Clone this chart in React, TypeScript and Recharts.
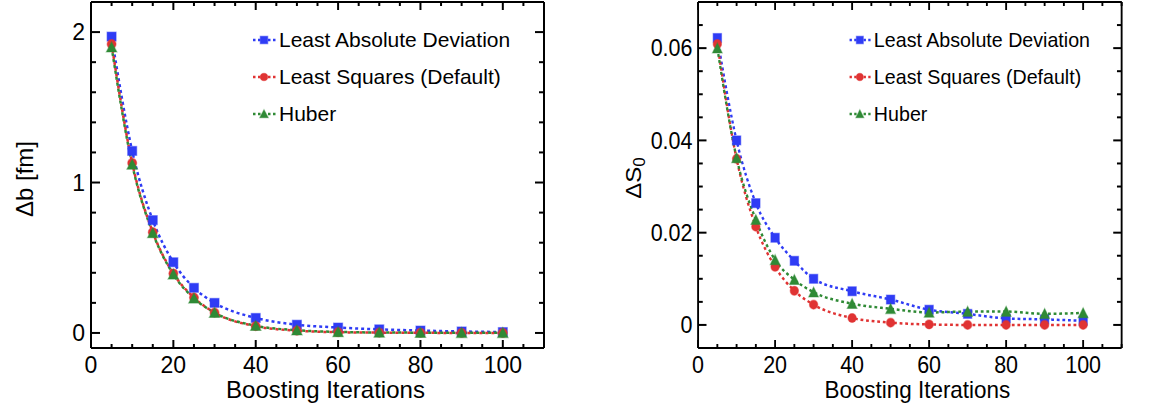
import React from 'react';
import { LineChart, Line, XAxis, YAxis, Legend, Label } from 'recharts';

const iterations = [5, 10, 15, 20, 25, 30, 40, 50, 60, 70, 80, 90, 100];

const dbLAD = [1.97, 1.21, 0.75, 0.47, 0.30, 0.20, 0.10, 0.055, 0.036, 0.024, 0.016, 0.010, 0.006];
const dbLS = [1.92, 1.13, 0.67, 0.395, 0.235, 0.135, 0.045, 0.015, 0.005, 0.002, 0.001, 0.0, 0.0];
const dbHuber = [1.90, 1.12, 0.665, 0.39, 0.23, 0.135, 0.048, 0.018, 0.007, 0.003, 0.002, 0.001, 0.001];

const dsLAD = [0.0622, 0.04, 0.0264, 0.0189, 0.0139, 0.01, 0.0073, 0.0055, 0.0033, 0.0024, 0.0014, 0.0012, 0.0009];
const dsLS = [0.0609, 0.036, 0.0213, 0.0126, 0.0074, 0.0044, 0.0015, 0.0005, 0.0001, 0.0, 0.0, 0.0, 0.0];
const dsHuber = [0.06, 0.0362, 0.0228, 0.0141, 0.0098, 0.0071, 0.0046, 0.0035, 0.0027, 0.0029, 0.0029, 0.0024, 0.0026];

const seriesNames = ['Least Absolute Deviation', 'Least Squares (Default)', 'Huber'];
const seriesColors = ['#2f3cf5', '#e03333', '#2f8a35'];
const seriesShapes = ['square', 'circle', 'triangle'];

const xTicks = [0, 5, 10, 15, 20, 25, 30, 35, 40, 45, 50, 55, 60, 65, 70, 75, 80, 85, 90, 95, 100, 105, 110];
const xMajor = [0, 20, 40, 60, 80, 100];
const xLabels = ['0', '20', '40', '60', '80', '100'];

const dbTicks = [0, 0.2, 0.4, 0.6, 0.8, 1.0, 1.2, 1.4, 1.6, 1.8, 2.0, 2.2];
const dbMajor = [0, 1, 2];
const dbLabels = ['0', '1', '2'];

const dsTicks = [0, 0.005, 0.01, 0.015, 0.02, 0.025, 0.03, 0.035, 0.04, 0.045, 0.05, 0.055, 0.06, 0.065, 0.07];
const dsMajor = [0, 0.02, 0.04, 0.06];
const dsLabels = ['0', '0.02', '0.04', '0.06'];

const FONT = '"Liberation Sans", Arial, Helvetica, sans-serif';

const buildRows = (a: number[], b: number[], c: number[]) =>
  iterations.map((it, i) => ({ it, lad: a[i], ls: b[i], hub: c[i] }));

const dbData = buildRows(dbLAD, dbLS, dbHuber);
const dsData = buildRows(dsLAD, dsLS, dsHuber);

const majorIndex = (v: number, majors: number[]) => majors.findIndex((m) => Math.abs(m - v) < 1e-9);

const Marker = ({ shape, cx, cy, color, size = 9 }: any) => {
  const h = size / 2;
  if (shape === 'square') {
    return <rect x={cx - h} y={cy - h} width={size} height={size} fill={color} stroke={color} strokeOpacity={0.45} strokeWidth={1.2} />;
  }
  if (shape === 'circle') {
    return <circle cx={cx} cy={cy} r={h} fill={color} stroke={color} strokeOpacity={0.45} strokeWidth={1.2} />;
  }
  return (
    <polygon
      points={`${cx},${cy - h - 0.5} ${cx + h + 0.5},${cy + h} ${cx - h - 0.5},${cy + h}`}
      fill={color}
      stroke={color}
      strokeOpacity={0.45}
      strokeWidth={1.2}
    />
  );
};

const makeDot = (shape: string, color: string) => (props: any) => {
  const { cx, cy, index } = props;
  if (cx == null || cy == null) return <g key={`d-${index}`} />;
  return (
    <g key={`d-${shape}-${index}`}>
      <Marker shape={shape} cx={cx} cy={cy} color={color} size={shape === 'triangle' ? 9.5 : 9} />
    </g>
  );
};

const makeXTick = (dir: number, withLabel: boolean) => (props: any) => {
  const { x, y, payload } = props;
  const mi = majorIndex(payload.value, xMajor);
  const len = mi >= 0 ? 8 : 4;
  return (
    <g>
      <line x1={x} y1={y} x2={x} y2={y + dir * len} stroke="#000" strokeWidth={2} />
      {withLabel && mi >= 0 && (
        <text x={x} y={y + 25} textAnchor="middle" fontSize={23} fontFamily={FONT} fill="#000">
          {xLabels[mi]}
        </text>
      )}
    </g>
  );
};

const makeYTick = (dir: number, majors: number[], labels: string[] | null) => (props: any) => {
  const { x, y, payload } = props;
  const mi = majorIndex(payload.value, majors);
  const len = mi >= 0 ? 9 : 5;
  return (
    <g>
      <line x1={x} y1={y} x2={x + dir * len} y2={y} stroke="#000" strokeWidth={2} />
      {labels && mi >= 0 && (
        <text x={x - 6} y={y} dy="0.36em" textAnchor="end" fontSize={23} fontFamily={FONT} fill="#000">
          {labels[mi]}
        </text>
      )}
    </g>
  );
};

const XTitle = (props: any) => {
  const vb = props.viewBox || {};
  return (
    <text x={vb.x + vb.width / 2 + 8} y={vb.y + 50} textAnchor="middle" fontSize={24} fontFamily={FONT} fill="#000">
      Boosting Iterations
    </text>
  );
};

const LegendContent = () => (
  <div style={{ fontFamily: FONT, fontSize: 21, color: '#000' }}>
    {seriesNames.map((n, i) => (
      <div key={n} style={{ height: 37, display: 'flex', alignItems: 'center', whiteSpace: 'nowrap' }}>
        <svg width={26} height={14} style={{ display: 'block' }}>
          <line x1={1} y1={7} x2={25} y2={7} stroke={seriesColors[i]} strokeWidth={2.5} strokeDasharray="2.5 2.5" />
          <Marker shape={seriesShapes[i]} cx={12} cy={7} color={seriesColors[i]} size={7.5} />
        </svg>
        <span style={{ marginLeft: 1 }}>{n}</span>
      </div>
    ))}
  </div>
);

const Panel = ({ data, yDomain, yTicks, yMajor, yLabels, yTitle }: any) => {
  const keys = ['lad', 'ls', 'hub'];
  return (
    <LineChart width={560} height={413} data={data} margin={{ top: 1, right: 15, bottom: 64, left: 0 }}>
      <XAxis
        dataKey="it"
        type="number"
        domain={[0, 110]}
        ticks={xTicks}
        interval={0}
        tickSize={0}
        tickMargin={0}
        tickLine={false}
        height={1}
        axisLine={{ stroke: '#000', strokeWidth: 2 }}
        tick={makeXTick(-1, true)}
      >
        <Label content={XTitle} />
      </XAxis>
      <XAxis
        xAxisId="top"
        orientation="top"
        dataKey="it"
        type="number"
        domain={[0, 110]}
        ticks={xTicks}
        interval={0}
        tickSize={0}
        tickMargin={0}
        tickLine={false}
        height={1}
        axisLine={{ stroke: '#000', strokeWidth: 2 }}
        tick={makeXTick(1, false)}
      />
      <YAxis
        type="number"
        domain={yDomain}
        ticks={yTicks}
        interval={0}
        allowDataOverflow
        tickSize={0}
        tickMargin={0}
        tickLine={false}
        width={91}
        axisLine={{ stroke: '#000', strokeWidth: 2 }}
        tick={makeYTick(1, yMajor, yLabels)}
      >
        <Label content={yTitle} />
      </YAxis>
      <YAxis
        yAxisId="right"
        orientation="right"
        type="number"
        domain={yDomain}
        ticks={yTicks}
        interval={0}
        allowDataOverflow
        tickSize={0}
        tickMargin={0}
        tickLine={false}
        width={1}
        axisLine={{ stroke: '#000', strokeWidth: 2 }}
        tick={makeYTick(-1, yMajor, null)}
      />
      <Legend
        layout="vertical"
        verticalAlign="middle"
        align="center"
        wrapperStyle={{ top: 21, left: 252, width: 'auto', position: 'absolute' }}
        content={LegendContent}
      />
      {keys.map((k, i) => (
        <Line
          key={k}
          dataKey={k}
          name={seriesNames[i]}
          type="monotone"
          stroke={seriesColors[i]}
          strokeWidth={2.5}
          strokeDasharray="3 3"
          dot={makeDot(seriesShapes[i], seriesColors[i])}
          activeDot={false}
          isAnimationActive={false}
        />
      ))}
    </LineChart>
  );
};

const DbTitle = () => (
  <text x={33} y={179} transform="rotate(-90, 33, 179)" textAnchor="middle" fontSize={24} fontFamily={FONT} fill="#000">
    Δb [fm]
  </text>
);

const DsTitle = () => (
  <text x={30} y={178} transform="rotate(-90, 30, 178)" textAnchor="middle" fontSize={24} fontFamily={FONT} fill="#000">
    ΔS
    <tspan fontSize={17} dy={4}>0</tspan>
  </text>
);

export default function App() {
  return (
    <div style={{ position: 'absolute', left: 0, top: 0, width: 1159, height: 413, background: '#fff', overflow: 'hidden' }}>
      <div style={{ position: 'absolute', left: 0, top: 0 }}>
        <Panel data={dbData} yDomain={[-0.1, 2.2]} yTicks={dbTicks} yMajor={dbMajor} yLabels={dbLabels} yTitle={DbTitle} />
      </div>
      <div style={{ position: 'absolute', left: 612.6, top: 0, transform: 'scaleX(0.935)', transformOrigin: 'left top' }}>
        <Panel data={dsData} yDomain={[-0.005, 0.07]} yTicks={dsTicks} yMajor={dsMajor} yLabels={dsLabels} yTitle={DsTitle} />
      </div>
    </div>
  );
}
